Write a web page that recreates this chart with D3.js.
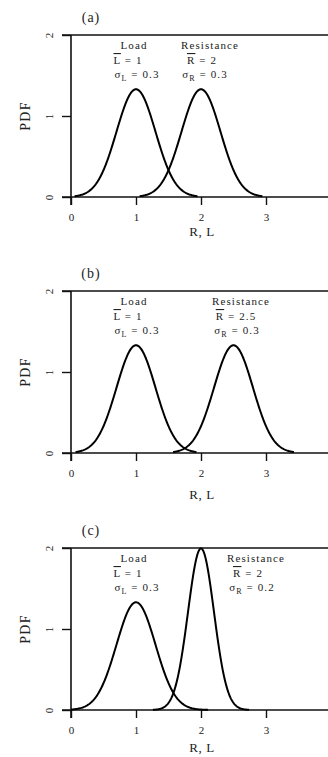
<!DOCTYPE html>
<html>
<head>
<meta charset="utf-8">
<script src="https://cdn.jsdelivr.net/npm/d3@7/dist/d3.min.js"></script>
<style>
  html, body { margin: 0; padding: 0; background: #fff; }
  svg { display: block; }
  text { font-family: "Liberation Serif", "Times New Roman", serif; fill: #222; }
</style>
</head>
<body>
<svg id="chart" width="328" height="757"></svg>
<script>
// Panel titles and the distribution parameters shown on each panel
const panelTitles = ["(a)", "(b)", "(c)"];
const loadMean = [1, 1, 1];
const loadSigma = [0.3, 0.3, 0.3];
const resistanceMean = [2, 2.5, 2];
const resistanceSigma = [0.3, 0.3, 0.2];

// Axis ticks
const xTicks = [0, 1, 2, 3];
const yTicks = [0, 1, 2];
const xDomain = [0, 4];
const yDomain = [0, 2];

// Layout of the three stacked panels
const panelTop = [35, 291, 548];
const panelHeight = 162;
const xLabelOffset = [39, 46, 42];
const curveSpan = [3.15, 3.1, 3.7];        // how many sigmas each curve is drawn out to
const resistanceLabelX = [210, 241, 256];
const loadLabelX = 134;

const svg = d3.select("#chart");
const x = d3.scaleLinear().domain(xDomain).range([71, 331]);

// Normal probability density for a given mean and standard deviation
function normalPdf(v, mu, s) {
  return Math.exp(-0.5 * ((v - mu) / s) ** 2) / (s * Math.sqrt(2 * Math.PI));
}
function curvePoints(mu, s, k) {
  const lo = Math.max(0, mu - k * s), hi = mu + k * s;
  const n = 200;
  return d3.range(n + 1).map(i => {
    const v = lo + (hi - lo) * i / n;
    return [v, normalPdf(v, mu, s)];
  });
}

function fmt(v) { return String(v); }

panelTitles.forEach((title, i) => {
  const top = panelTop[i];
  const y = d3.scaleLinear().domain(yDomain).range([top + panelHeight, top]);
  const g = svg.append("g");

  // panel title
  g.append("text").attr("x", 91).attr("y", top - 13)
    .attr("text-anchor", "middle").attr("font-size", 14).attr("letter-spacing", 1)
    .text(title);

  // top frame line at the upper limit of the PDF axis
  g.append("line")
    .attr("x1", 62).attr("x2", x(xDomain[1]))
    .attr("y1", y(yDomain[1])).attr("y2", y(yDomain[1]))
    .attr("stroke", "#111").attr("stroke-width", 1.6);

  // bottom axis
  const xAxis = d3.axisBottom(x).tickValues(xTicks).tickSize(8).tickSizeOuter(0).tickFormat(fmt);
  const xa = g.append("g").attr("transform", `translate(0,${y(0)})`).call(xAxis);
  xa.select(".domain").remove();
  xa.append("line").attr("x1", 62).attr("x2", x(xDomain[1]))
    .attr("stroke", "#111").attr("stroke-width", 1.6);
  xa.selectAll(".tick line").attr("stroke", "#111").attr("stroke-width", 1.4);
  xa.selectAll(".tick text").attr("y", 20).attr("dy", "0.35em")
    .attr("font-size", 11).attr("font-family", "Liberation Serif").attr("fill", "#333");

  // left axis with rotated tick labels
  const yAxis = d3.axisLeft(y).tickValues(yTicks).tickSize(9).tickSizeOuter(0).tickFormat(fmt);
  const ya = g.append("g").attr("transform", `translate(${x(0)},0)`).call(yAxis);
  ya.select(".domain").remove();
  ya.append("line").attr("y1", y(yDomain[1])).attr("y2", y(0) + 8)
    .attr("stroke", "#111").attr("stroke-width", 1.6);
  ya.selectAll(".tick line").attr("stroke", "#111").attr("stroke-width", 1.4);
  ya.selectAll(".tick text")
    .attr("x", null).attr("dy", null)
    .attr("transform", "translate(-22,0) rotate(-90)")
    .attr("text-anchor", "middle").attr("dy", "0.35em")
    .attr("font-size", 11).attr("font-family", "Liberation Serif").attr("fill", "#333");

  // axis titles
  g.append("text")
    .attr("transform", `translate(30,${(y(0) + y(2)) / 2}) rotate(-90)`)
    .attr("text-anchor", "middle").attr("font-size", 14).attr("letter-spacing", 1.2)
    .text("PDF");
  g.append("text").attr("x", 202).attr("y", y(0) + xLabelOffset[i])
    .attr("text-anchor", "middle").attr("font-size", 13).attr("letter-spacing", 0.6)
    .text("R, L");

  // density curves
  const line = d3.line().x(d => x(d[0])).y(d => y(d[1]));
  [[loadMean[i], loadSigma[i]], [resistanceMean[i], resistanceSigma[i]]].forEach(([mu, s]) => {
    g.append("path").datum(curvePoints(mu, s, curveSpan[i]))
      .attr("d", line).attr("fill", "none")
      .attr("stroke", "#000").attr("stroke-width", 2).attr("stroke-linejoin", "round");
  });

  // distribution annotations
  function annotate(cx, name, sym, mean, sub, sigma, offs) {
    const a = g.append("g").attr("font-size", 11).attr("letter-spacing", 1.1);
    a.append("text").attr("x", cx + offs[0]).attr("y", top + 14)
      .attr("text-anchor", "middle").text(name);
    const t2 = a.append("text").attr("x", cx + offs[1]).attr("y", top + 29).attr("text-anchor", "middle");
    t2.append("tspan").attr("text-decoration", "overline").text(sym);
    t2.append("tspan").text(" = " + mean);
    const t3 = a.append("text").attr("x", cx + offs[2]).attr("y", top + 43).attr("text-anchor", "middle");
    t3.append("tspan").text("σ");
    t3.append("tspan").attr("font-size", 8).attr("dy", 2.5).text(sub);
    t3.append("tspan").attr("dy", -2.5).text(" = " + sigma);
  }
  annotate(loadLabelX, "Load", "L", loadMean[i], "L", loadSigma[i], [0, -6, 3]);
  annotate(resistanceLabelX[i], "Resistance", "R", resistanceMean[i], "R", resistanceSigma[i],
    i === 0 ? [0, -8, -5] : (i === 1 ? [0, -5, -4] : [0, -8, -4]));
});
</script>
</body>
</html>
